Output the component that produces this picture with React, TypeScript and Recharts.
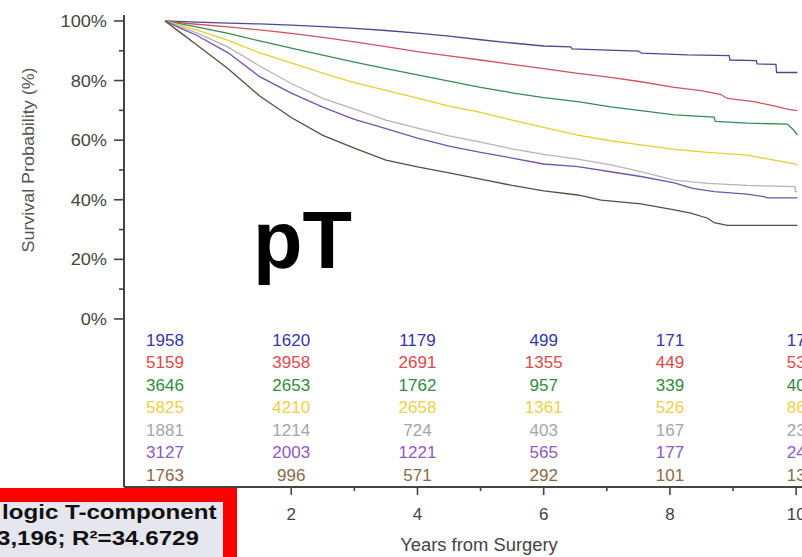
import React from 'react';
import { ComposedChart, Line, Scatter, XAxis, YAxis } from 'recharts';

const FONT = '"Liberation Sans", Arial, Helvetica, sans-serif';

// Kaplan–Meier survival by pT group: [years from surgery, survival %]
const survivalA: [number, number][] = [
  [0, 100], [0.5, 99.6], [1, 99.3], [1.5, 99.0], [2, 98.6], [2.5, 98.1], [3, 97.5],
  [3.5, 96.8], [4, 95.9], [4.5, 94.9], [5, 93.7], [5.5, 92.6], [6, 91.6], [6.43, 91.3],
  [6.45, 90.6], [6.9, 90.3], [7.5, 89.9], [7.55, 89.2], [8.28, 88.6], [8.94, 88.4],
  [8.95, 86.9], [9.37, 86.7], [9.38, 85.6], [9.68, 85.4], [9.69, 82.7], [10.02, 82.7],
];
const survivalB: [number, number][] = [
  [0, 100], [0.25, 99.4], [0.5, 98.9], [1, 98.0], [1.5, 97.0], [2, 95.8], [2.5, 94.5],
  [3, 93.0], [3.5, 91.4], [4, 89.7], [4.5, 88.3], [5, 86.9], [5.5, 85.4], [6, 84.0],
  [6.54, 82.4], [7.06, 81.1], [7.54, 79.6], [8.07, 77.7], [8.49, 76.6], [8.8, 75.4],
  [8.91, 74.0], [9.33, 72.9], [9.65, 71.5], [9.86, 70.4], [10.02, 69.9],
];
const survivalC: [number, number][] = [
  [0, 100], [0.25, 99.0], [0.5, 98.0], [1, 95.8], [1.5, 93.3], [2, 90.9], [2.5, 88.5],
  [3, 86.2], [3.5, 84.0], [4, 81.9], [4.5, 79.8], [5, 77.7], [5.5, 75.9], [6, 74.3],
  [6.54, 72.9], [7.06, 71.2], [7.54, 69.9], [8.07, 68.5], [8.7, 67.7], [8.72, 66.3],
  [9.22, 65.7], [9.86, 65.4], [9.96, 63.4], [10.02, 61.7],
];
const survivalD: [number, number][] = [
  [0, 100], [0.25, 98.5], [0.5, 97.0], [1, 93.5], [1.5, 89.3], [2, 85.9], [2.5, 82.5],
  [3, 79.3], [3.5, 76.7], [4, 74.1], [4.5, 71.4], [5, 69.3], [5.5, 66.7], [6, 64.3],
  [6.54, 61.7], [7.06, 59.8], [7.54, 58.4], [8.07, 56.9], [8.6, 55.9], [9.22, 55.0],
  [9.5, 53.9], [10.02, 51.9],
];
const survivalE: [number, number][] = [
  [0, 100], [0.25, 98.0], [0.5, 96.0], [1, 91.2], [1.5, 84.9], [2, 79.0], [2.5, 74.0],
  [3, 70.4], [3.5, 66.7], [4, 64.0], [4.5, 61.4], [5, 59.3], [5.5, 57.1], [6, 55.2],
  [6.54, 53.6], [7.06, 51.7], [7.54, 49.4], [8.07, 46.6], [8.6, 45.5], [9.22, 44.8],
  [9.98, 44.4], [9.99, 42.7], [10.02, 42.7],
];
const survivalF: [number, number][] = [
  [0, 100], [0.25, 97.5], [0.5, 95.2], [1, 89.3], [1.5, 81.3], [2, 75.8], [2.5, 71.1],
  [3, 67.0], [3.5, 63.9], [4, 60.7], [4.5, 58.0], [5, 55.9], [5.5, 54.0], [6, 52.0],
  [6.54, 51.1], [7.06, 49.4], [7.54, 47.8], [8.07, 45.7], [8.36, 43.8], [8.7, 42.7],
  [9.22, 41.9], [9.5, 41.0], [9.55, 40.6], [10.02, 40.6],
];
const survivalG: [number, number][] = [
  [0, 100], [0.25, 96.0], [0.5, 92.0], [0.75, 88.0], [1, 84.0], [1.5, 74.8], [2, 67.6],
  [2.5, 61.6], [3, 57.3], [3.5, 53.3], [4, 51.0], [4.5, 49.0], [5, 46.9], [5.5, 44.8],
  [6, 43.0], [6.54, 41.6], [6.91, 39.9], [7.54, 38.6], [8.07, 36.6], [8.33, 35.5],
  [8.6, 33.8], [8.7, 32.3], [8.91, 31.4], [10.02, 31.4],
];

// Numbers at risk
const riskYears = [0, 2, 4, 6, 8, 10];
const atRiskA = [1958, 1620, 1179, 499, 171, 17];
const atRiskB = [5159, 3958, 2691, 1355, 449, 53];
const atRiskC = [3646, 2653, 1762, 957, 339, 40];
const atRiskD = [5825, 4210, 2658, 1361, 526, 86];
const atRiskE = [1881, 1214, 724, 403, 167, 23];
const atRiskF = [3127, 2003, 1221, 565, 177, 24];
const atRiskG = [1763, 996, 571, 292, 101, 13];

const yTicks = [0, 10, 20, 30, 40, 50, 60, 70, 80, 90, 100];
const xTicks = [1, 2, 3, 4, 5, 6, 7, 8, 9, 10];

const groups = [
  { key: 'A', curve: survivalA, risk: atRiskA, line: '#4a4a92', text: '#3434b0' },
  { key: 'B', curve: survivalB, risk: atRiskB, line: '#d4505e', text: '#e04848' },
  { key: 'C', curve: survivalC, risk: atRiskC, line: '#3a8a52', text: '#2f8c40' },
  { key: 'D', curve: survivalD, risk: atRiskD, line: '#e6cf30', text: '#f2cf48' },
  { key: 'E', curve: survivalE, risk: atRiskE, line: '#b4b4bc', text: '#a6a6a6' },
  { key: 'F', curve: survivalF, risk: atRiskF, line: '#7454aa', text: '#9058c8' },
  { key: 'G', curve: survivalG, risk: atRiskG, line: '#5c4c42', text: '#8a6a48' },
];

// at-risk table rows sit below 0% inside the plot, in axis units
const ROW_FIRST = -7.05;
const ROW_STEP = 7.55;

const YTick = (props: any) => {
  const { x, y, payload } = props;
  const v = payload.value;
  const major = v % 20 === 0;
  return (
    <g>
      <line x1={x - (major ? 10 : 5)} x2={x} y1={y} y2={y} stroke="#444" strokeWidth={1.6} />
      {major && (
        <text
          transform={`translate(${x - 17},${y + 6}) scale(1.1,1)`}
          textAnchor="end"
          fill="#444"
          fontFamily={FONT}
          fontSize={16.5}
        >
          {`${v}%`}
        </text>
      )}
    </g>
  );
};

const XTick = (props: any) => {
  const { x, y, payload } = props;
  const v = payload.value;
  const major = v % 2 === 0;
  return (
    <g>
      <line x1={x} x2={x} y1={y} y2={y + (major ? 8 : 4)} stroke="#444" strokeWidth={1.6} />
      {major && (
        <text x={x} y={y + 33} textAnchor="middle" fill="#444" fontFamily={FONT} fontSize={17}>
          {v}
        </text>
      )}
    </g>
  );
};

const countShape = (color: string) => (props: any) => {
  const { cx, cy, payload } = props;
  return (
    <text x={cx} y={cy + 6} textAnchor="middle" fill={color} fontFamily={FONT} fontSize={17}>
      {payload.n}
    </text>
  );
};

export default function App() {
  return (
    <div
      style={{
        position: 'fixed',
        left: 0,
        top: 0,
        width: 802,
        height: 557,
        overflow: 'hidden',
        background: '#fff',
      }}
    >
      <ComposedChart
        width={844}
        height={557}
        margin={{ top: 15, right: 10, bottom: 0, left: 0 }}
      >
        <XAxis
          dataKey="t"
          type="number"
          domain={[-0.65, 10.6]}
          ticks={xTicks}
          allowDataOverflow
          height={70}
          tickSize={0}
          tickMargin={0}
          tickLine={false}
          axisLine={{ stroke: '#444', strokeWidth: 2 }}
          tick={<XTick />}
        />
        <YAxis
          type="number"
          domain={[-56.4, 102]}
          ticks={yTicks}
          allowDataOverflow
          width={124}
          tickSize={0}
          tickMargin={0}
          tickLine={false}
          axisLine={{ stroke: '#444', strokeWidth: 2 }}
          tick={<YTick />}
        />
        {groups.map((g) => (
          <Line
            key={`c${g.key}`}
            data={g.curve.map(([t, s]) => ({ t, s }))}
            dataKey="s"
            type="linear"
            stroke={g.line}
            strokeWidth={1.3}
            dot={false}
            activeDot={false}
            isAnimationActive={false}
          />
        ))}
        {groups.map((g, i) => (
          <Scatter
            key={`r${g.key}`}
            data={riskYears.map((t, j) => ({ t, s: ROW_FIRST - i * ROW_STEP, n: g.risk[j] }))}
            dataKey="s"
            shape={countShape(g.text)}
            isAnimationActive={false}
          />
        ))}
      </ComposedChart>

      <svg
        width={802}
        height={557}
        style={{ position: 'absolute', left: 0, top: 0, pointerEvents: 'none' }}
      >
        <text
          transform="translate(34,160) rotate(-90) scale(1.12,1)"
          textAnchor="middle"
          fill="#555"
          fontFamily={FONT}
          fontSize={16}
        >
          Survival Probability (%)
        </text>
        <text
          transform="translate(479,551) scale(1.05,1)"
          textAnchor="middle"
          fill="#444"
          fontFamily={FONT}
          fontSize={17.5}
        >
          Years from Surgery
        </text>
        <text x={253} y={268} fill="#000" fontFamily={FONT} fontWeight="bold" fontSize={81}>
          pT
        </text>
        <rect x={-20} y={495} width={250} height={90} fill="#e6e6ef" stroke="#ff0000" strokeWidth={14} />
        <text
          transform="translate(2,519) scale(1.15,1)"
          fill="#111"
          fontFamily={FONT}
          fontWeight="bold"
          fontSize={21}
        >
          logic T-component
        </text>
        <text
          transform="translate(-3,545) scale(1.15,1)"
          fill="#111"
          fontFamily={FONT}
          fontWeight="bold"
          fontSize={21}
        >
          3,196; R²=34.6729
        </text>
      </svg>
    </div>
  );
}
